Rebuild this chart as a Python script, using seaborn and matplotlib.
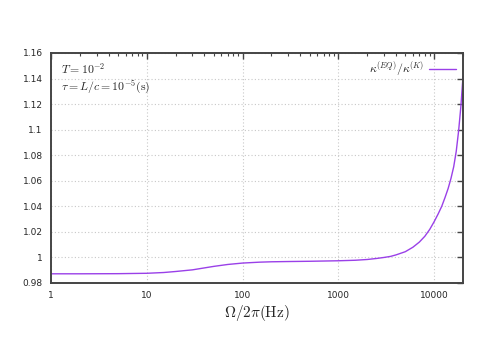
import numpy as np
import pandas as pd
import matplotlib
matplotlib.use("Agg")
import matplotlib.pyplot as plt
import matplotlib.ticker as mticker
import seaborn as sns

# values (frequency in Hz, ratio)
freq = [1, 2, 5, 10, 15, 20, 30, 50, 70, 100, 150, 200, 300, 500, 1000,
        1500, 2000, 2500, 3000, 3500, 4000, 5000, 6000, 7000, 8000, 9000,
        10000, 11000, 12000, 13000, 14000, 15000, 16000, 17000, 18000,
        19000, 20000]
ratio = [0.9872, 0.9872, 0.9873, 0.9876, 0.9882, 0.9890, 0.9903, 0.9930,
         0.9945, 0.9956, 0.9963, 0.9966, 0.9968, 0.9970, 0.9974, 0.9978,
         0.9984, 0.9992, 1.0000, 1.0008, 1.0020, 1.0045, 1.0080, 1.0120,
         1.0166, 1.0220, 1.0280, 1.0340, 1.0400, 1.0470, 1.0540, 1.0620,
         1.0710, 1.0830, 1.0990, 1.1180, 1.1415]
xticks = [1, 10, 100, 1000, 10000]
xticklabels = ["1", "10", "100", "1000", "10000"]
yticks = [0.98, 1.0, 1.02, 1.04, 1.06, 1.08, 1.1, 1.12, 1.14, 1.16]
yticklabels = ["0.98", "1", "1.02", "1.04", "1.06", "1.08", "1.1", "1.12", "1.14", "1.16"]

df = pd.DataFrame({"f": freq, "r": ratio})

sns.set_style("white")
plt.rcParams["font.family"] = ["DejaVu Sans"]
plt.rcParams["mathtext.fontset"] = "cm"

fig = plt.figure(figsize=(4.78, 3.59), dpi=100)
ax = fig.add_axes([0.1067, 0.2117, 0.9686 - 0.1067, 0.8524 - 0.2117])

sns.lineplot(data=df, x="f", y="r", ax=ax, color="#9a40e8", lw=1.0,
             label=r"$\kappa^{(EQ)}/\kappa^{(K)}$")

ax.set_xscale("log")
ax.set_xlim(1, 20000)
ax.set_ylim(0.98, 1.16)
ax.set_xticks(xticks)
ax.set_xticklabels(xticklabels)
ax.xaxis.set_minor_locator(mticker.LogLocator(base=10, subs=np.arange(2, 10)))
ax.xaxis.set_minor_formatter(mticker.NullFormatter())
ax.set_yticks(yticks)
ax.set_yticklabels(yticklabels)

ax.grid(True, which="major", color="#c8c8c8", ls=(0, (1, 2)), lw=0.8)
ax.tick_params(which="both", direction="in", top=True, right=True,
               color="#444444", labelsize=6.5, pad=6)
ax.tick_params(which="major", length=4, width=1)
ax.tick_params(which="minor", length=2, width=0.8)
for s in ax.spines.values():
    s.set_color("#444444")
    s.set_linewidth(1.4)

ax.set_xlabel(r"$\Omega/2\pi(\mathrm{Hz})$", fontsize=11, labelpad=2)
ax.set_ylabel("")

ax.text(0.025, 0.93, r"$T=10^{-2}$", transform=ax.transAxes, fontsize=8.5,
        va="center", ha="left")
ax.text(0.025, 0.85, r"$\tau=L/c=10^{-5}(\mathrm{s})$", transform=ax.transAxes,
        fontsize=8.5, va="center", ha="left")

leg = ax.legend(loc="upper right", frameon=False, fontsize=8.5,
                markerfirst=False, handlelength=2.3, borderaxespad=0.2,
                handletextpad=0.4)

fig.savefig("out.png", dpi=100)
